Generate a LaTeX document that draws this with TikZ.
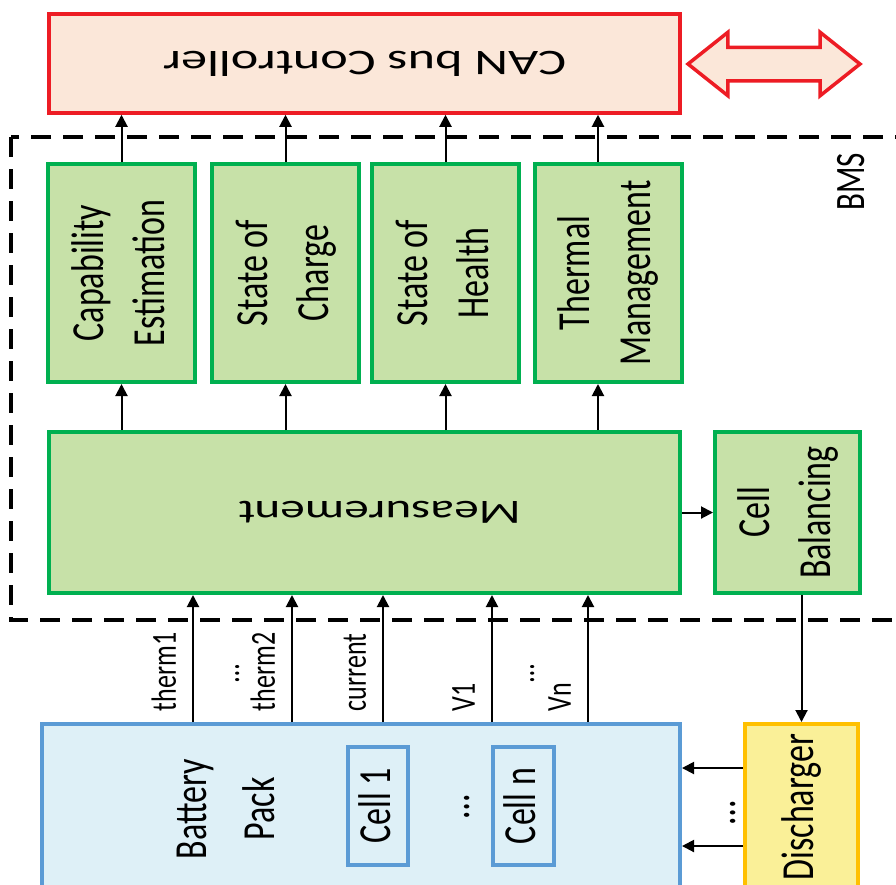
\documentclass[tikz,border=0pt]{standalone}
\usepackage{fontspec}
\setmainfont{Carlito}
\usepackage{graphicx}
\usepackage{tikz}
\usetikzlibrary{arrows.meta,shapes.arrows,positioning}

\definecolor{bmsgreen}{RGB}{0,176,80}
\definecolor{bmsgreenfill}{RGB}{199,225,168}
\definecolor{canred}{RGB}{237,28,36}
\definecolor{canfill}{RGB}{251,231,217}
\definecolor{packblue}{RGB}{91,155,213}
\definecolor{packfill}{RGB}{222,240,247}
\definecolor{dischorange}{RGB}{255,192,0}
\definecolor{dischfill}{RGB}{250,240,152}

% text set sideways (reading upwards) or upside down, slightly widened
\newcommand{\vtxt}[1]{\scalebox{1.35}[1]{\rotatebox{90}{\begin{tabular}{@{}c@{}}#1\end{tabular}}}}
\newcommand{\utxt}[1]{\scalebox{1.45}[1]{\rotatebox{180}{#1}}}

\tikzstyle{arrow} = [line width=2pt, -{Triangle[length=12pt,width=12pt]}]
\tikzstyle{module} = [rectangle, draw=bmsgreen, fill=bmsgreenfill, line width=4pt, inner sep=0pt, font=\fontsize{34}{45}\selectfont]
\tikzstyle{controller} = [rectangle, draw=canred, fill=canfill, line width=3.5pt, inner sep=0pt, font=\fontsize{36}{45}\selectfont]
\tikzstyle{busarrow} = [double arrow, draw=canred, fill=canfill, line width=3.5pt, text height=0pt, text depth=0pt, inner xsep=0pt, inner ysep=15pt, double arrow head extend=15pt, double arrow tip angle=77, minimum height=172pt]
\tikzstyle{pack} = [rectangle, draw=packblue, fill=packfill, line width=4pt, inner sep=0pt, font=\fontsize{34}{45}\selectfont]
\tikzstyle{discharger} = [rectangle, draw=dischorange, fill=dischfill, line width=4pt, inner sep=0pt, font=\fontsize{34}{45}\selectfont]
\tikzstyle{plain} = [inner sep=0pt, font=\fontsize{34}{50}\selectfont]
\tikzstyle{sig} = [inner sep=0pt, font=\fontsize{26}{30}\selectfont]

\begin{document}
\begin{tikzpicture}[x=1pt, y=-1pt]
\useasboundingbox (0,0) rectangle (896,884);
\clip (0,0) rectangle (896,884);

% BMS frame
\draw[line width=4pt, dash pattern=on 20pt off 12pt] (11,137) rectangle (940,620);
\node[sig, font=\fontsize{31}{36}\selectfont] (bms) at (855,182) {\vtxt{BMS}};

% bus side
\node[controller, minimum width=631, minimum height=99] (can) at (364.5,63.5) {\utxt{CAN bus Controller}};
\node[busarrow] (bus) at (774,64) {};

% estimation blocks
\node[module, minimum width=147, minimum height=218] (cap) at (121.5,273) {\vtxt{Capability\\Estimation}};
\node[module, minimum width=147, minimum height=218] (soc) at (285.5,273) {\vtxt{State of\\Charge}};
\node[module, minimum width=147, minimum height=218] (soh) at (445.5,273) {\vtxt{State of\\Health}};
\node[module, minimum width=147, minimum height=218] (therm) at (608,273) {\vtxt{Thermal\\Management}};

\node[module, minimum width=631, minimum height=161] (meas) at (364.5,512.5) {\utxt{Measurement\hspace{21pt}}};
\node[module, minimum width=145, minimum height=161] (bal) at (787.5,512.5) {\vtxt{Cell\\Balancing}};

% pack and discharger
\node[pack, minimum width=638, minimum height=166] (bp) at (361,807) {};
\node[plain] (bplabel) at (227,809) {\vtxt{Battery\\Pack}};
\node[pack, minimum width=52, minimum height=118] (cell1) at (378,806) {\vtxt{Cell 1}};
\node[pack, minimum width=53, minimum height=118] (celln) at (523.5,806) {\vtxt{Cell n}};
\node[plain] (celldots) at (456,807) {\vtxt{…}};
\node[discharger, minimum width=113, minimum height=166] (dis) at (801.5,807) {\vtxt{Discharger}};
\node[plain] (disdots) at (722,813) {\vtxt{…}};

% arrows up to the controller and from the measurement
\foreach \n in {cap,soc,soh} {
  \draw[arrow] (\n.north) -- (\n.north |- can.south);
  \draw[arrow] (meas.north -| \n.south) -- (\n.south);
}
\draw[arrow] ([xshift=-10pt]therm.north) -- ([xshift=-10pt]therm.north |- can.south);
\draw[arrow] ([xshift=-10pt]therm.south |- meas.north) -- ([xshift=-10pt]therm.south);
\draw[arrow] (meas.east |- bal.west) -- (bal.west);
\draw[arrow] (bal.south -| dis.north) -- (dis.north);
\draw[arrow] (dis.west |- 0,768) -- (bp.east |- 0,768);
\draw[arrow] (dis.west |- 0,846) -- (bp.east |- 0,846);

% sensed signals
\foreach \x/\lab in {193/therm1, 292/therm2, 383/current, 492/V1, 588/Vn}
  \draw[arrow] (bp.north -| \x,0) node[sig, anchor=south east, xshift=-4pt, yshift=10pt] {\vtxt{\lab}} -- (meas.south -| \x,0);
\node[sig] (sigdots1) at (231,674) {\vtxt{…}};
\node[sig] (sigdots2) at (526,674) {\vtxt{…}};
\end{tikzpicture}
\end{document}
